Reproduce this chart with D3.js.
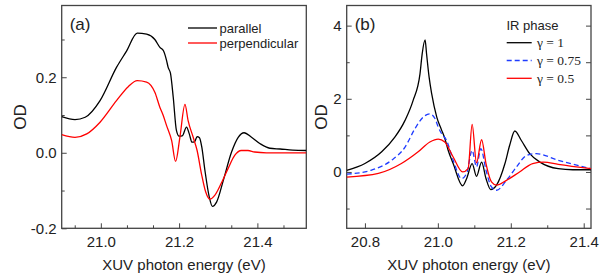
<!DOCTYPE html>
<html lang="en">
  <head>
    <meta charset="UTF-8">
    <style>
      body { margin: 0; background: #fff; }
      svg { display: block; font-family: "Liberation Sans", Arial, sans-serif; }
      .curve { fill: none; stroke-width: 1.3px; }
      .tick text { font-size: 15px; fill: #222; }
      .tick line { stroke: #444; stroke-width: 1px; }
    </style>
    <script src="https://d3js.org/d3.v7.min.js"></script>
  </head>
  <body>
  <script>
    // ---- panel (a): measured spectra ----
    const parE  = [20.9, 20.934, 20.96, 20.998, 21.04, 21.066, 21.093, 21.117, 21.138, 21.151, 21.16, 21.168, 21.172, 21.178, 21.185, 21.193, 21.2, 21.208, 21.219, 21.226, 21.233, 21.24, 21.246, 21.252, 21.258, 21.266, 21.277, 21.285, 21.296, 21.313, 21.334, 21.351, 21.366, 21.385, 21.407, 21.432, 21.458, 21.49, 21.525];
    const parOD = [0.096, 0.088, 0.094, 0.138, 0.226, 0.27, 0.317, 0.314, 0.30, 0.279, 0.27, 0.244, 0.226, 0.21, 0.147, 0.06, 0.044, 0.045, 0.068, 0.05, 0.028, 0.03, 0.043, 0.04, 0.015, -0.047, -0.117, -0.142, -0.13, -0.073, 0.002, 0.041, 0.053, 0.041, 0.024, 0.012, 0.01, 0.007, 0.006];
    const perpE  = [20.9, 20.934, 20.964, 20.998, 21.04, 21.07, 21.093, 21.117, 21.138, 21.151, 21.159, 21.168, 21.181, 21.191, 21.202, 21.215, 21.223, 21.236, 21.246, 21.257, 21.268, 21.279, 21.291, 21.309, 21.325, 21.342, 21.359, 21.376, 21.393, 21.423, 21.47, 21.525];
    const perpOD = [0.048, 0.041, 0.05, 0.081, 0.138, 0.175, 0.191, 0.187, 0.16, 0.12, 0.1, 0.072, 0.032, -0.023, 0.041, 0.128, 0.085, 0.041, 0.006, -0.055, -0.104, -0.123, -0.113, -0.078, -0.042, -0.007, 0.006, 0.006, 0.002, 0, 0, 0];

    // ---- panel (b): IR phase ----
    const g1E  = [20.75, 20.8, 20.846, 20.882, 20.91, 20.932, 20.951, 20.957, 20.965, 20.969, 20.976, 20.983, 20.997, 21.01, 21.019, 21.028, 21.042, 21.068, 21.079, 21.094, 21.106, 21.12, 21.132, 21.145, 21.161, 21.184, 21.197, 21.211, 21.229, 21.252, 21.28, 21.33, 21.37, 21.42];
    const g1OD = [0.04, 0.23, 0.55, 0.95, 1.41, 1.95, 2.68, 3.23, 3.61, 3.23, 2.59, 2.14, 1.5, 1.15, 0.92, 0.6, 0.23, -0.38, -0.18, 0.23, -0.12, 0.27, -0.18, -0.48, -0.36, 0.23, 0.73, 1.12, 0.86, 0.5, 0.27, 0.09, 0.06, 0.06];
    const g75E  = [20.75, 20.818, 20.873, 20.91, 20.937, 20.96, 20.978, 20.992, 21.001, 21.01, 21.024, 21.042, 21.065, 21.079, 21.094, 21.106, 21.118, 21.132, 21.147, 21.161, 21.188, 21.216, 21.243, 21.27, 21.33, 21.42];
    const g75OD = [-0.06, 0.05, 0.32, 0.68, 1.18, 1.5, 1.59, 1.46, 1.23, 1.05, 0.86, 0.32, -0.18, -0.04, 0.59, 0.14, 0.64, 0.05, -0.41, -0.5, -0.23, 0.14, 0.45, 0.5, 0.32, 0.09];
    const g5E  = [20.75, 20.837, 20.9, 20.946, 20.978, 21.001, 21.019, 21.042, 21.068, 21.083, 21.094, 21.106, 21.12, 21.132, 21.147, 21.161, 21.188, 21.224, 21.26, 21.29, 21.33, 21.42];
    const g5OD = [-0.14, -0.04, 0.23, 0.55, 0.82, 0.9, 0.82, 0.41, 0, 0.09, 1.3, 0.25, 0.88, 0.23, -0.27, -0.36, -0.23, 0, 0.23, 0.27, 0.21, 0.09];

    // ticks
    const aXMajor = [21.0, 21.2, 21.4];
    const aXMinor = [20.9333, 21.0667, 21.1333, 21.2667, 21.3333, 21.4667];
    const aYMajor = [-0.2, 0.0, 0.2];
    const aYMinor = [-0.1, 0.1, 0.3];
    const bXMajor = [20.8, 21.0, 21.2, 21.4];
    const bXMinor = [20.9, 21.1, 21.3];
    const bYMajor = [0, 2, 4];
    const bYMinor = [-1, 1, 3];

    const aLegend = [{name: 'parallel', color: '#000'}, {name: 'perpendicular', color: '#ff0000'}];
    const bLegend = [{name: 'γ = 1', color: '#000', dash: null},
                     {name: 'γ = 0.75', color: '#1f3cff', dash: '5,3'},
                     {name: 'γ = 0.5', color: '#ff0000', dash: null}];

    const svg = d3.select('body').append('svg').attr('width', 610).attr('height', 276);

    function panel(box, xDom, yDom, o) {
      const x = d3.scaleLinear().domain(xDom).range([box.l, box.r]);
      const y = d3.scaleLinear().domain(yDom).range([box.b, box.t]);
      const g = svg.append('g');
      const h = box.b - box.t;

      // bottom axis
      g.append('g').attr('transform', `translate(0,${box.b})`)
        .call(d3.axisBottom(x).tickValues(o.xMajor).tickSize(-5).tickPadding(8).tickFormat(d => d.toFixed(1)))
        .call(s => s.select('.domain').remove());
      g.append('g').attr('transform', `translate(0,${box.b})`)
        .call(d3.axisBottom(x).tickValues(o.xMinor).tickSize(-3).tickFormat(''))
        .call(s => s.select('.domain').remove());
      // left axis
      g.append('g').attr('transform', `translate(${box.l},0)`)
        .call(d3.axisLeft(y).tickValues(o.yMajor).tickSize(-5).tickPadding(5).tickFormat(o.yFmt))
        .call(s => s.select('.domain').remove());
      g.append('g').attr('transform', `translate(${box.l},0)`)
        .call(d3.axisLeft(y).tickValues(o.yMinor).tickSize(-3).tickFormat(''))
        .call(s => s.select('.domain').remove());
      if (o.rightTicks) {
        g.append('g').attr('transform', `translate(${box.r},0)`)
          .call(d3.axisRight(y).tickValues(o.yMajor.concat(o.yMinor)).tickSize(-5).tickFormat(''))
          .call(s => s.select('.domain').remove());
      }
      g.selectAll('.tick text').style('font-family', '"Liberation Sans", Arial, sans-serif');

      // frame
      g.append('rect').attr('x', box.l).attr('y', box.t)
        .attr('width', box.r - box.l).attr('height', h)
        .attr('fill', 'none').attr('stroke', '#444').attr('stroke-width', 1.3);

      // labels
      g.append('text').attr('x', (box.l + box.r) / 2).attr('y', 270)
        .attr('text-anchor', 'middle').style('font-size', '15px').attr('fill', '#222')
        .text('XUV photon energy (eV)');
      g.append('text').attr('transform', `translate(${box.l - o.odGap},${(box.t + box.b) / 2}) rotate(-90)`)
        .attr('text-anchor', 'middle').style('font-size', '17px').attr('fill', '#222')
        .text('OD');
      g.append('text').attr('x', box.l + 8).attr('y', 30)
        .style('font-size', '17px').attr('fill', '#222').text(o.tag);

      const clipId = 'clip' + o.tag.replace(/\W/g, '');
      svg.append('clipPath').attr('id', clipId).append('rect')
        .attr('x', box.l).attr('y', box.t).attr('width', box.r - box.l).attr('height', h);

      const line = d3.line().x(d => x(d[0])).y(d => y(d[1])).curve(d3.curveMonotoneX);
      const cg = g.append('g').attr('clip-path', `url(#${clipId})`);
      o.series.forEach(s => {
        cg.append('path').attr('class', 'curve')
          .attr('d', line(d3.zip(s.e, s.v)))
          .attr('stroke', s.color)
          .attr('stroke-dasharray', s.dash || null);
      });
      return {x, y, g};
    }

    const pa = panel({l: 61.7, r: 306.3, t: 5.5, b: 228.3}, [20.9, 21.525], [-0.2, 0.39], {
      xMajor: aXMajor, xMinor: aXMinor, yMajor: aYMajor, yMinor: aYMinor,
      yFmt: d => d.toFixed(1), tag: '(a)', rightTicks: false, odGap: 36,
      series: [{e: parE, v: parOD, color: '#000'}, {e: perpE, v: perpOD, color: '#ff0000'}]
    });

    const pb = panel({l: 346.7, r: 591, t: 5.5, b: 228.3}, [20.75, 21.42], [-1.54, 4.55], {
      xMajor: bXMajor, xMinor: bXMinor, yMajor: bYMajor, yMinor: bYMinor,
      yFmt: d => String(d), tag: '(b)', rightTicks: true, odGap: 20,
      series: [{e: g1E, v: g1OD, color: '#000'},
               {e: g75E, v: g75OD, color: '#1f3cff', dash: '5,3'},
               {e: g5E, v: g5OD, color: '#ff0000'}]
    });

    // legend (a)
    aLegend.forEach((d, i) => {
      const yy = 28 + i * 15;
      pa.g.append('line').attr('x1', 188).attr('x2', 217).attr('y1', yy).attr('y2', yy)
        .attr('stroke', d.color).attr('stroke-width', 1.3);
      pa.g.append('text').attr('x', 219.5).attr('y', yy).attr('dy', '0.35em')
        .style('font-size', '13px').attr('fill', '#222').text(d.name);
    });

    // legend (b)
    pb.g.append('text').attr('x', 506.5).attr('y', 25.5).attr('dy', '0.35em')
      .style('font-size', '13px').attr('fill', '#222').text('IR phase');
    bLegend.forEach((d, i) => {
      const yy = 42.7 + i * 17.8;
      pb.g.append('line').attr('x1', 506.7).attr('x2', 531.7).attr('y1', yy).attr('y2', yy)
        .attr('stroke', d.color).attr('stroke-width', 1.3).attr('stroke-dasharray', d.dash);
      pb.g.append('text').attr('x', 537).attr('y', yy).attr('dy', '0.35em')
        .style('font-size', '13.5px').style('font-family', '"Liberation Serif", "Times New Roman", serif')
        .attr('fill', '#222').text(d.name);
    });
  </script>
  </body>
</html>
